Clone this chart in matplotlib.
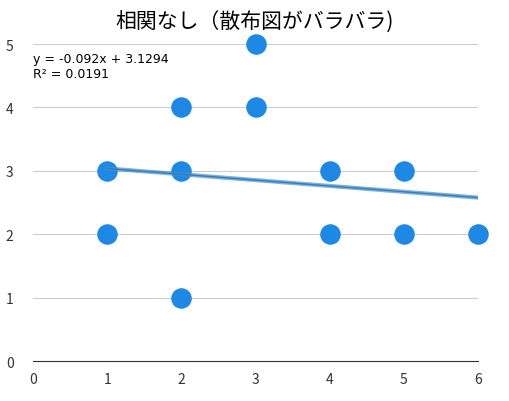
import matplotlib.pyplot as plt
import numpy as np

plt.rcParams['font.family'] = ['Noto Sans CJK JP', 'DejaVu Sans']

x_vals = [1, 1, 2, 2, 2, 3, 3, 4, 4, 5, 5, 6]
y_vals = [3, 2, 4, 3, 1, 5, 4, 3, 2, 3, 2, 2]
slope = -0.092
intercept = 3.1294

fig = plt.figure(figsize=(5.09, 4.02), dpi=100)
ax = fig.add_axes([0.065, 0.0995, 0.874, 0.7885])

for yv in range(1, 6):
    ax.axhline(yv, color='#cccccc', lw=0.8, zorder=0)

ax.scatter(x_vals, y_vals, s=190, color='#1e88e5', zorder=3, clip_on=False)

tx = np.array([min(x_vals), max(x_vals)])
ax.plot(tx, slope * tx + intercept, color='#4a90c8', lw=3, alpha=0.7, zorder=4)
ax.plot(tx, slope * tx + intercept, color='#2f7fc0', lw=1, zorder=5)

ax.set_xlim(0, 6)
ax.set_ylim(0, 5)
ax.set_xticks(range(0, 7))
ax.set_yticks(range(0, 6))
for s in ['top', 'right', 'left']:
    ax.spines[s].set_visible(False)
ax.spines['bottom'].set_color('#333333')
ax.tick_params(length=0, labelsize=10, colors='#333333')
ax.tick_params(axis='x', pad=8)
ax.tick_params(axis='y', pad=14)

ax.text(0.0, 0.975, 'y = -0.092x + 3.1294\nR² = 0.0191', transform=ax.transAxes,
        fontsize=9, va='top', ha='left', family=['DejaVu Sans'])
fig.suptitle('相関なし（散布図がバラバラ)', fontsize=15, y=0.975)

fig.savefig('out.png')
